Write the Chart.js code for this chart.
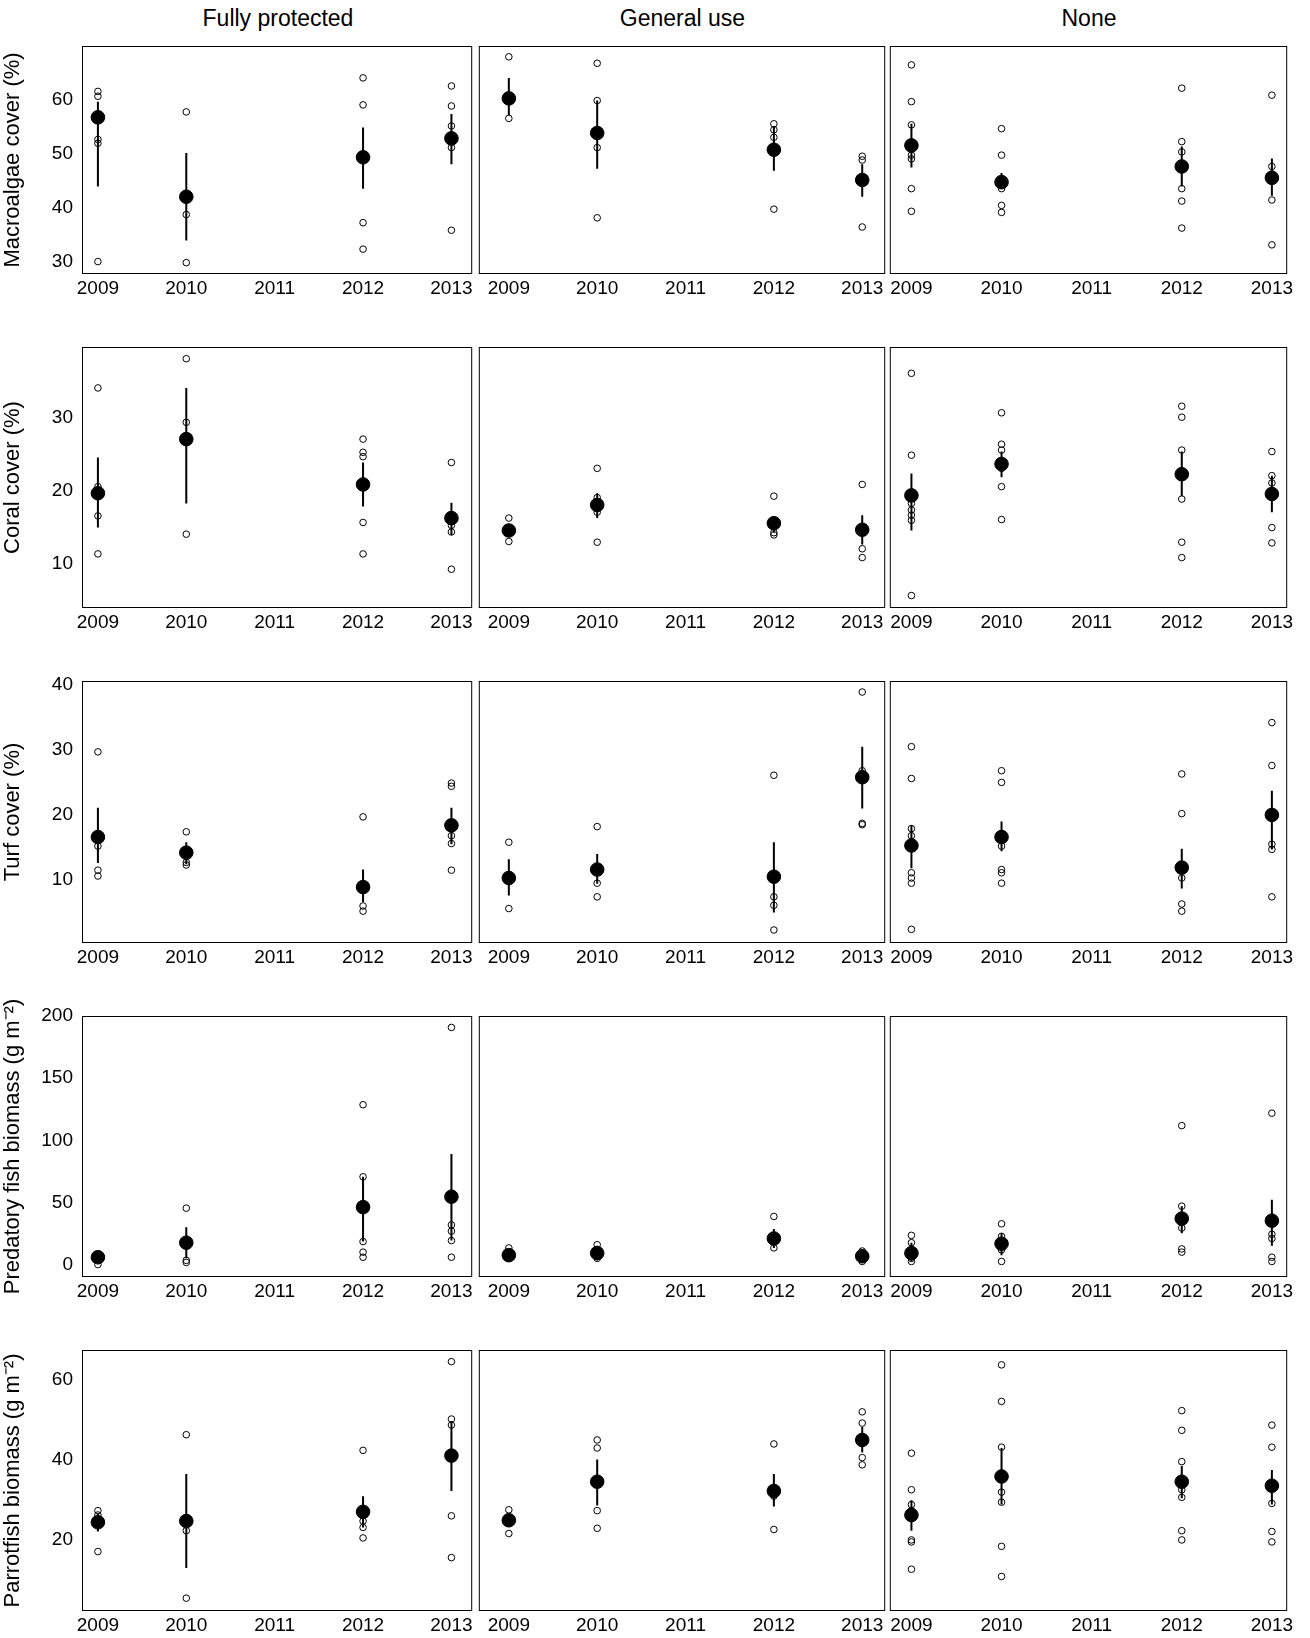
<!DOCTYPE html>
<html><head><meta charset="utf-8">
<script src="https://cdn.jsdelivr.net/npm/chart.js@4/dist/chart.umd.min.js"></script>
<style>
body{margin:0;background:#fff;width:1310px;height:1638px;position:relative;font-family:"Liberation Sans",Arial,sans-serif}
canvas{position:absolute}
.ct{position:absolute;top:5px;font-size:23px;text-align:center;color:#000}
</style></head><body>
<div class="ct" style="left:82px;width:392px">Fully protected</div>
<div class="ct" style="left:478px;width:409px">General use</div>
<div class="ct" style="left:889px;width:400px">None</div>
<script>
const years = [2009, 2010, 2012, 2013];
const xTicks = [2009, 2010, 2011, 2012, 2013];
const columns = ["Fully protected", "General use", "None"];
const rowTitles = ["Macroalgae cover (%)", "Coral cover (%)", "Turf cover (%)", "Predatory fish biomass (g m\u207B\u00B2)", "Parrotfish biomass (g m\u207B\u00B2)"];
const yTickVals = [[30,40,50,60],[10,20,30],[10,20,30,40],[0,50,100,150,200],[20,40,60]];

// Macroalgae
const macro_mean = [[56.7,42.0,49.3,52.8],[60.2,53.8,50.7,45.1],[51.5,44.7,47.6,45.5]];
const macro_lo = [[43.9,33.9,43.5,48.0],[57.1,47.2,46.8,42.0],[47.4,43.5,43.9,42.2]];
const macro_hi = [[59.6,50.1,54.8,57.3],[64.0,59.8,55.0,48.0],[55.5,46.4,51.3,49.1]];
const macro_pts = [
 [[61.5,60.6,52.6,51.9,30.0],[57.7,38.7,29.8],[64.0,59.0,37.2,32.3],[62.5,58.8,55.1,53.0,51.1,35.8]],
 [[67.9,56.5],[66.7,59.8,51.1,38.1],[55.5,54.4,53.0,39.7],[49.5,48.8,36.4]],
 [[66.4,59.6,55.3,49.7,49.0,43.5,39.3],[54.6,49.7,44.7,43.5,40.4,39.1],[62.1,52.2,50.3,43.5,41.2,36.2],[60.8,47.6,46.2,45.1,41.4,33.1]]];
// Coral
const coral_mean = [[19.7,27.1,20.9,16.3],[14.6,18.1,15.6,14.7],[19.4,23.7,22.3,19.6]];
const coral_lo = [[15.0,18.3,17.9,14.0],[13.7,16.3,14.3,12.7],[14.6,21.9,19.3,17.1]];
const coral_hi = [[24.6,34.1,23.9,18.4],[15.4,19.7,16.4,16.7],[22.4,25.4,25.4,22.1]];
const coral_pts = [
 [[34.1,20.6,16.6,11.4],[38.1,29.4,14.1],[27.1,25.3,24.7,15.7,11.4],[23.9,15.3,14.4,9.3]],
 [[16.3,13.1],[23.1,19.1,17.1,13.0],[19.3,14.3,14.0],[20.9,12.1,10.9]],
 [[36.1,24.9,18.3,17.4,16.7,16.0,5.7],[30.7,26.4,25.6,23.1,20.6,16.1],[31.6,30.1,25.6,18.9,13.0,10.9],[25.4,22.1,21.1,15.0,12.9]]];
// Turf
const turf_mean = [[16.6,14.2,8.9,18.4],[10.3,11.6,10.5,25.8],[15.3,16.6,11.9,20.0]];
const turf_lo = [[12.6,12.4,6.6,15.5],[7.6,9.4,5.0,21.0],[11.8,14.4,8.7,14.7]];
const turf_hi = [[21.1,15.8,11.6,21.1],[13.2,14.0,15.8,30.5],[18.4,19.0,14.8,23.7]];
const turf_pts = [
 [[29.7,15.2,11.5,10.6],[17.4,12.7,12.3],[19.7,6.0,5.2],[24.9,24.4,16.8,15.6,11.5]],
 [[15.8,9.8,5.6],[18.2,9.5,7.4],[26.1,7.4,6.1,2.3],[38.9,26.8,18.7,18.5]],
 [[30.5,25.6,17.9,16.8,11.1,10.3,9.5,2.4],[26.8,25.0,15.2,11.6,11.1,9.5],[26.3,20.2,10.3,6.3,5.2],[34.2,27.6,15.5,14.7,7.4]]];
// Predatory fish
const pred_mean = [[5.9,17.6,46.2,54.6],[7.6,9.2,21.0,6.7],[9.2,16.8,37.0,35.3]];
const pred_lo = [[1.7,5.0,18.5,19.3],[3.4,3.4,13.4,2.5],[2.5,7.6,25.2,15.1]];
const pred_hi = [[10.0,30.0,70.6,89.0],[11.8,15.1,28.6,11.8],[17.6,25.2,47.0,52.1]];
const pred_pts = [
 [[7.6,5.9,0.0],[45.4,3.4,1.7],[128.6,70.6,18.5,10.0,5.9],[190.8,31.9,26.9,19.3,5.9]],
 [[13.4,7.6,5.0],[16.0,10.0,5.0],[38.7,18.5,13.4],[10.9,4.2,2.5]],
 [[23.5,17.6,11.8,5.0,2.5],[32.8,22.7,17.6,11.8,2.5],[111.8,47.0,29.4,12.6,10.0],[121.8,24.4,21.0,5.9,2.5]]];
// Parrotfish
const parrot_mean = [[24.4,24.7,27.0,41.0],[24.9,34.5,32.2,44.9],[26.2,35.8,34.5,33.5]];
const parrot_lo = [[22.1,13.0,23.1,32.2],[23.4,28.6,28.3,41.8],[22.3,28.8,30.4,28.8]];
const parrot_hi = [[26.5,36.4,30.9,49.6],[26.5,40.0,36.4,48.1],[29.9,42.9,38.4,37.4]];
const parrot_pts = [
 [[27.3,26.2,17.1],[46.2,22.3,5.5],[42.3,24.7,23.1,20.5],[64.4,50.1,48.6,26.0,15.6]],
 [[27.5,21.6],[44.9,42.9,27.3,22.9],[43.9,30.9,22.6],[51.9,49.1,40.5,38.7]],
 [[41.6,32.5,28.8,27.3,20.0,19.5,12.7],[63.6,54.5,43.1,31.9,29.4,18.4,10.9],[52.2,47.3,39.5,32.5,30.6,22.3,20.0],[48.6,43.1,29.1,22.1,19.5]]];

const rowData = [
 [macro_mean, macro_lo, macro_hi, macro_pts],
 [coral_mean, coral_lo, coral_hi, coral_pts],
 [turf_mean, turf_lo, turf_hi, turf_pts],
 [pred_mean, pred_lo, pred_hi, pred_pts],
 [parrot_mean, parrot_lo, parrot_hi, parrot_pts]];

// layout (scaled)
const S = 1.045;
const yRange = [[27.7,69.9],[4.0,39.7],[0.3,40.6],[-10,200],[2.3,67.3]];
const rowArea = [[44,262],[332,582],[652,902],[972,1222],[1292,1542]];
const colArea = [[78,453],[457,848],[851,1233]];
const xRange = [[2008.82,2013.235],[2008.66,2013.26],[2008.76,2013.17]];
const FONT = '"Liberation Sans", Arial, sans-serif';

const boxPlugin = {id:'box', afterDraw(c){const a=c.chartArea,x=c.ctx;x.save();x.strokeStyle='#000';x.lineWidth=1;x.strokeRect(a.left+0.5,a.top+0.5,a.right-a.left-1,a.bottom-a.top-1);x.restore();}};

for (let r=0;r<5;r++){
 for (let c=0;c<3;c++){
  const [mean, lo, hi, pts] = rowData[r];
  const ds = [];
  years.forEach((yr,i)=>{
   ds.push({type:'line',data:[{x:yr,y:lo[c][i]},{x:yr,y:hi[c][i]}],borderColor:'#000',borderWidth:2,pointRadius:0,showLine:true,order:3});
  });
  const ptData=[];
  years.forEach((yr,i)=>pts[c][i].forEach(v=>ptData.push({x:yr,y:v})));
  ds.push({data:ptData,pointRadius:3.3,pointBackgroundColor:'rgba(255,255,255,0)',pointBorderColor:'#000',pointBorderWidth:1,order:2});
  ds.push({data:years.map((yr,i)=>({x:yr,y:mean[c][i]})),pointRadius:6.8,pointBackgroundColor:'#000',pointBorderColor:'#000',order:1});

  const aT=Math.round(rowArea[r][0]*S), aB=Math.round(rowArea[r][1]*S);
  const aL=Math.round(colArea[c][0]*S), aR=Math.round(colArea[c][1]*S);
  const yW = c===0?aL:0;
  const canL = c===0?0:aL-7;
  const canW = (aR+7)-canL;
  const padT = c===0?36:10, padB = c===0?0:0;
  const canT = aT-padT, canH = (aB-aT)+padT+32;
  const wrap=document.createElement('div');wrap.style.cssText=`position:absolute;left:${canL}px;top:${canT}px;width:${canW}px;height:${canH}px`;
  const cv=document.createElement('canvas');
  document.body.appendChild(wrap);wrap.appendChild(cv);cv.style.left='0';cv.style.top='0';
  const yv=yTickVals[r];
  new Chart(cv,{type:'scatter',data:{datasets:ds},plugins:[boxPlugin],
   options:{responsive:true,maintainAspectRatio:false,animation:false,
    layout:{padding:{top:padT,right:7,left:c===0?0:7,bottom:padB}},
    plugins:{legend:{display:false},tooltip:{enabled:false}},
    scales:{
     x:{type:'linear',min:xRange[c][0],max:xRange[c][1],grid:{display:false,drawTicks:false},border:{display:false},
        afterBuildTicks:s=>{s.ticks=xTicks.map(v=>({value:v}));},
        afterFit:s=>{s.height=32;s.paddingLeft=0;s.paddingRight=0;},
        ticks:{color:'#000',font:{size:19,family:FONT},padding:3,maxRotation:0,autoSkip:false,callback:v=>String(v)}},
     y:{display:c===0,min:yRange[r][0],max:yRange[r][1],grid:{display:false,drawTicks:false},border:{display:false},
        afterBuildTicks:s=>{s.ticks=yv.map(v=>({value:v}));},
        afterFit:s=>{s.width=yW;s.paddingTop=0;s.paddingBottom=0;},
        title:{display:true,text:rowTitles[r],color:'#000',font:{size:22,family:FONT},padding:{top:0,bottom:8}},
        ticks:{color:'#000',font:{size:19,family:FONT},padding:9,callback:v=>String(v)}}
    }}});
 }
}
</script></body></html>
